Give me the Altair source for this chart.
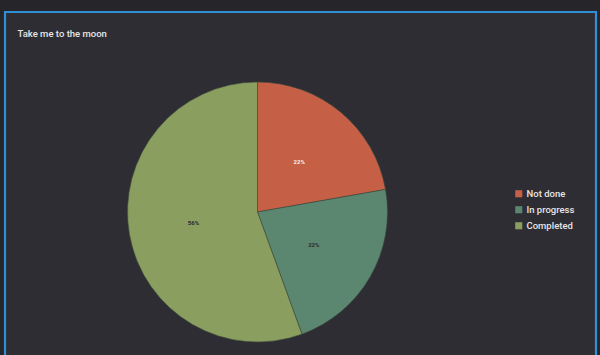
import altair as alt
import pandas as pd

title_text = "Take me to the moon"
categories = ["Not done", "In progress", "Completed"]
values = [2, 2, 5]
labels = ["22%", "22%", "56%"]
colors = ["#c55f46", "#5b8770", "#8a9e5f"]
label_colors = ["#f2f2f2", "#2a2a2a", "#2a2a2a"]

df = pd.DataFrame({
    "category": categories,
    "value": values,
    "label": labels,
    "order": list(range(len(categories))),
    "lc": label_colors,
})

CX, CY, R = 252.5, 200, 130

base = alt.Chart(df).encode(
    theta=alt.Theta("value:Q", stack=True),
    order=alt.Order("order:Q"),
)

arcs = base.mark_arc(outerRadius=R, stroke="#3d4a3a", strokeWidth=0.6).encode(
    x=alt.value(CX), y=alt.value(CY),
    color=alt.Color(
        "category:N",
        scale=alt.Scale(domain=categories, range=colors),
        sort=categories,
        legend=alt.Legend(
            title=None, orient="none", legendX=509, legendY=177,
            symbolType="square", symbolSize=50, symbolStrokeWidth=0,
            labelFont="Roboto", labelFontSize=9.5, labelFontWeight=500,
            labelColor="#e6e6e6",
            rowPadding=5, labelOffset=3, padding=0,
        ),
    ),
)

texts = base.mark_text(radius=R / 2, font="Roboto", fontSize=6, fontWeight="bold",
                       baseline="middle").encode(
    x=alt.value(CX), y=alt.value(CY),
    text="label:N",
    color=alt.Color("lc:N", scale=None, legend=None),
)

title = alt.Chart(pd.DataFrame({"t": [title_text]})).mark_text(
    align="left", baseline="middle", font="Roboto", fontSize=9.5, fontWeight=500,
    color="#e6e6e6"
).encode(text="t:N", x=alt.value(12.5), y=alt.value(22))

chart = alt.layer(arcs, texts, title).resolve_scale(color="independent").properties(
    width=591, height=350,
    autosize=alt.AutoSizeParams(type="none"),
    padding={"left": 5, "top": 12, "right": 4, "bottom": 0},
    background="#262529",
).configure_view(
    fill="#2e2d33", stroke="#2f8fd8", strokeWidth=2.2
)

chart.save("out.html", embed_options={"renderer": "svg", "actions": False})
